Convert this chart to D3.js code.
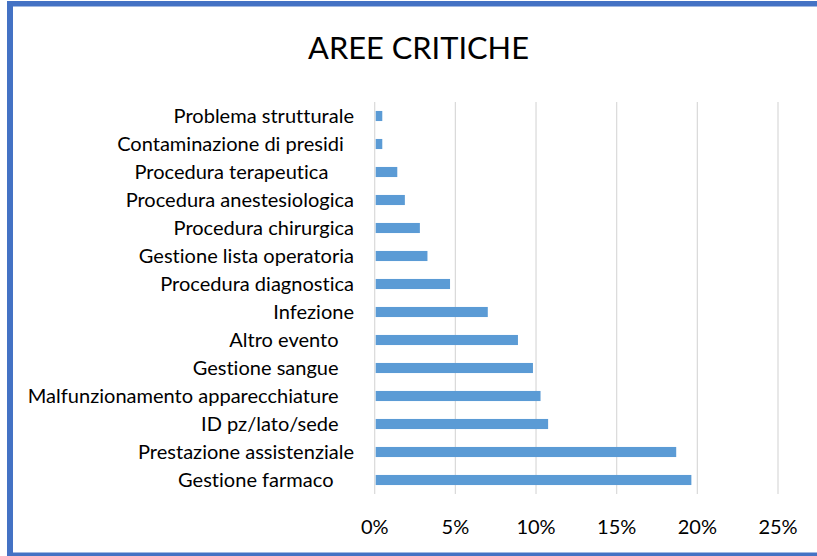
<!DOCTYPE html>
<html>
<head>
<meta charset="utf-8">
<script src="https://cdn.jsdelivr.net/npm/d3@7"></script>
<style>
  html, body { margin: 0; padding: 0; background: #fff; overflow: hidden; }
  svg { display: block; overflow: hidden; }
  text { font-family: Lato, "Open Sans", sans-serif; fill: #000; white-space: pre; font-variant-ligatures: none; font-feature-settings: "liga" 0, "clig" 0; }
</style>
</head>
<body>
<svg id="chart" width="817" height="556"></svg>
<script>
// ---- data (top to bottom as shown) ----
const title = "AREE CRITICHE";
const categories = [
  "Problema strutturale",
  "Contaminazione di presidi  ",
  "Procedura terapeutica     ",
  "Procedura anestesiologica",
  "Procedura chirurgica",
  "Gestione lista operatoria",
  "Procedura diagnostica",
  "Infezione",
  "Altro evento   ",
  "Gestione sangue   ",
  "Malfunzionamento apparecchiature   ",
  "ID pz/lato/sede   ",
  "Prestazione assistenziale",
  "Gestione farmaco    "
];
const values = [0.0047, 0.0047, 0.0140, 0.0187, 0.0280, 0.0327, 0.0467, 0.0701, 0.0888, 0.0981, 0.1028, 0.1075, 0.1869, 0.1963];
const tickValues = [0, 0.05, 0.10, 0.15, 0.20, 0.25];
const tickLabels = ["0%", "5%", "10%", "15%", "20%", "25%"];

const svg = d3.select("#chart");

// outer frame: top, left and bottom bands (right side cropped off)
const frame = svg.append("g").attr("fill", "#4472C4");
frame.append("rect").attr("x", 7).attr("y", 1).attr("width", 810).attr("height", 5.5);
frame.append("rect").attr("x", 7).attr("y", 1).attr("width", 6).attr("height", 555);
frame.append("rect").attr("x", 7).attr("y", 552.5).attr("width", 810).attr("height", 3.5);

const x0 = 374.7, x1 = 778;
const yTop = 102, yBot = 494;

const x = d3.scaleLinear().domain([0, 0.25]).range([x0, x1]);
const y = d3.scaleBand().domain(categories).range([yTop, yBot])
  .paddingInner(0.64).paddingOuter(0.32);

function fit(sel, text, target, base) {
  sel.style("font-size", base + "px");
  const t = sel.text(text);
  const w = t.node().getComputedTextLength();
  return base * target / w;
}

svg.append("g").selectAll("line")
  .data(tickValues)
  .join("line")
  .attr("x1", d => x(d)).attr("x2", d => x(d))
  .attr("y1", yTop).attr("y2", yBot)
  .attr("stroke", "#D9D9D9")
  .attr("stroke-width", 1.2);

svg.append("g").selectAll("rect")
  .data(values)
  .join("rect")
  .attr("x", x(0) + 1)
  .attr("y", (d, i) => y(categories[i]))
  .attr("width", d => x(d) - x(0) - 1)
  .attr("height", y.bandwidth())
  .attr("fill", "#5B9BD5");

const probe = svg.append("text");
const catSize = fit(probe, "Malfunzionamento apparecchiature", 311, 18);
const titleSize = fit(probe, title, 221, 30);
probe.remove();
const tickSize = 20;

svg.append("g").selectAll("text")
  .data(categories)
  .join("text")
  .attr("x", 354)
  .attr("y", d => y(d) + y.bandwidth() / 2)
  .attr("dy", "0.36em")
  .attr("text-anchor", "end")
  .style("font-size", catSize + "px")
  .text(d => d);

svg.append("g").selectAll("text")
  .data(tickValues)
  .join("text")
  .attr("x", d => x(d))
  .attr("y", 534)
  .attr("text-anchor", "middle")
  .style("font-size", tickSize + "px")
  .text((d, i) => tickLabels[i]);

svg.append("text")
  .attr("x", 418.5)
  .attr("y", 59.3)
  .attr("text-anchor", "middle")
  .style("font-size", titleSize + "px")
  .text(title);
</script>
</body>
</html>
